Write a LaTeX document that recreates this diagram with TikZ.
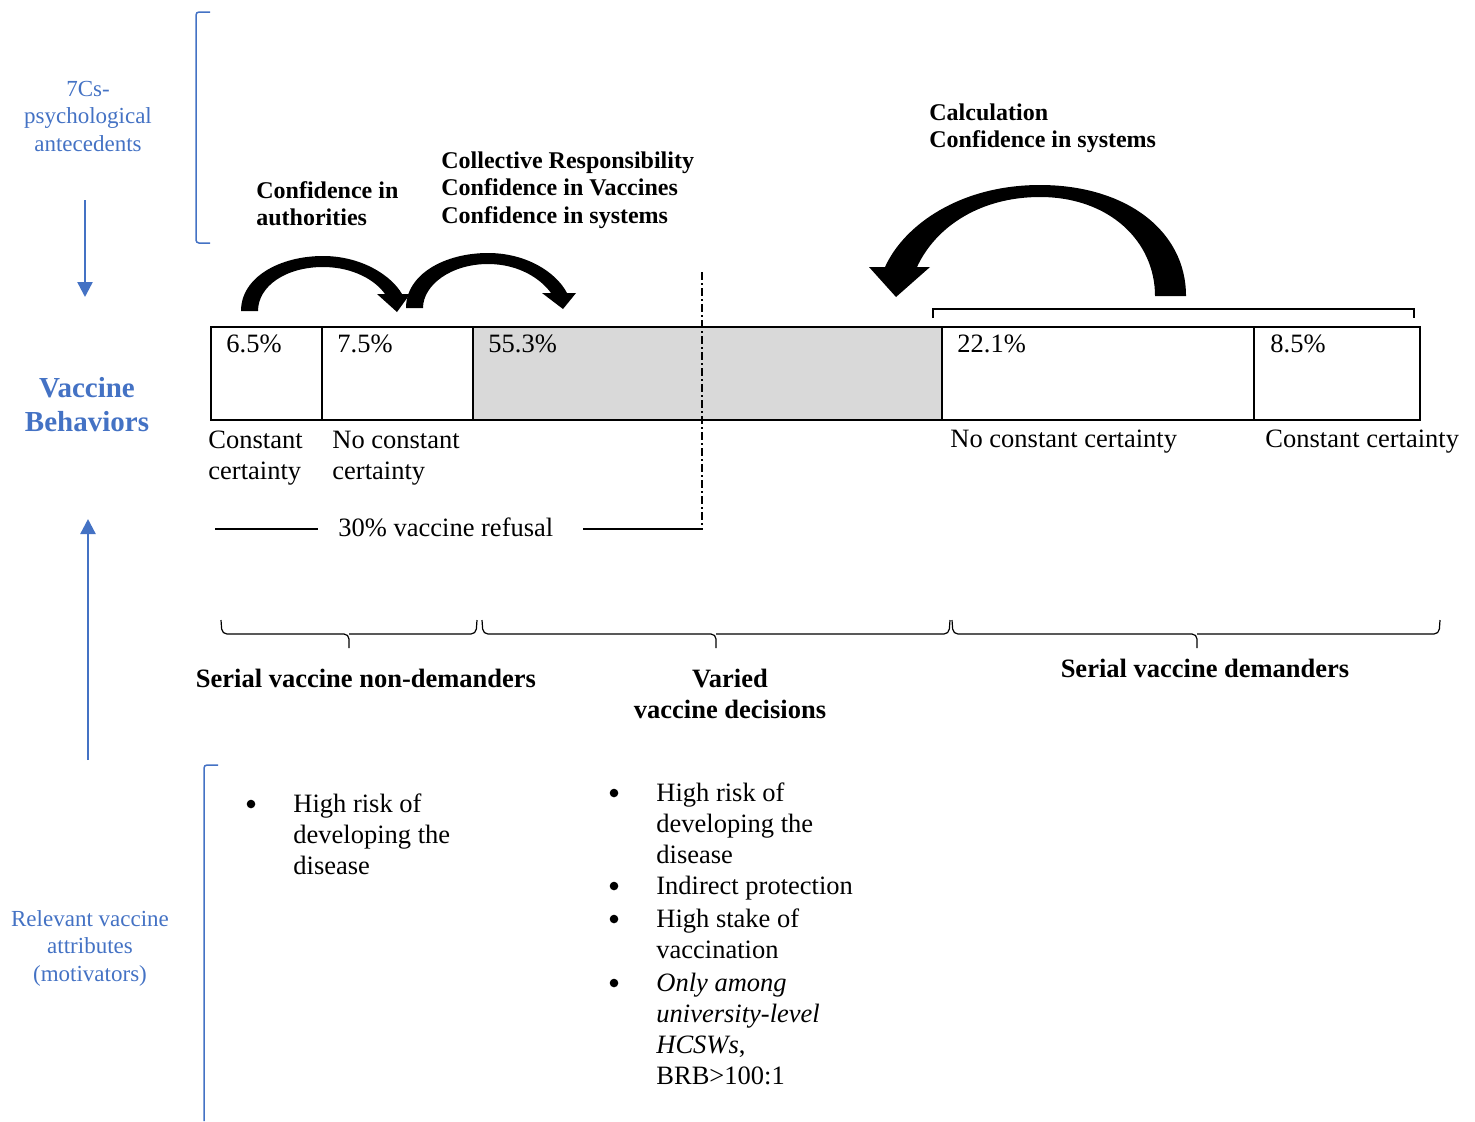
\documentclass[tikz,border=0pt]{standalone}
\usepackage{fontspec}
\setmainfont{Liberation Serif}
\usetikzlibrary{arrows.meta,fit}
\definecolor{wblue}{HTML}{4472C4}
\definecolor{cellgray}{HTML}{D9D9D9}
\tikzset{
  body/.style={font=\fontsize{13.25}{15.5}\selectfont, inner sep=0pt, align=left},
  grp/.style={font=\fontsize{13.25}{15.5}\selectfont\bfseries, inner sep=0pt, align=center},
  head/.style={font=\fontsize{12}{13.75}\selectfont\bfseries, inner sep=0pt, align=left},
  bluetxt/.style={text=wblue, font=\fontsize{11.5}{13.75}\selectfont, inner sep=0pt, align=center},
  bluebold/.style={text=wblue, font=\fontsize{14.5}{17}\selectfont\bfseries, inner sep=0pt, align=center},
  cell/.style={draw, line width=1pt, inner sep=0pt},
  brk/.style={draw=wblue, line width=0.75pt, rounded corners=1.5pt},
  barrow/.style={draw=wblue, line width=1.2pt, -{Triangle[width=7.5pt,length=7.5pt]}},
  curly/.style={line width=0.6pt, rounded corners=2.5pt},
  thinline/.style={line width=0.6pt},
  bigarrow/.style={fill=black},
  dot/.style={circle, fill=black, inner sep=0pt, minimum size=4.3pt},
}
\begin{document}
\begin{tikzpicture}[x=0.5pt,y=-0.5pt]
\useasboundingbox (0,0) rectangle (1475,1121);

% ---- left side blue labels and brackets (base = last line)
\node[bluetxt, anchor=base] (ante) at (88,151) {7Cs-\\psychological\\antecedents};
\node[bluebold, anchor=base] (behav) at (87,431) {Vaccine\\Behaviors};
\node[bluetxt, anchor=base] (attr) at (90,981) {Relevant vaccine\\attributes\\(motivators)};
\coordinate (a1s) at (85,200);
\coordinate (a1e) at (85,297);
\draw[barrow] (a1s) -- (a1e);
\coordinate (a2s) at (88,760);
\coordinate (a2e) at (88,519);
\draw[barrow] (a2s) -- (a2e);
\draw[brk] (210,12) -- (196,12) -- (196,243) -- (210,243);
\draw[brk] (218,765) -- (204,765) -- (204,1121);

% ---- header labels
\node[head, anchor=base west] (h1) at (256,225.5) {Confidence in\\authorities};
\node[head, anchor=base west] (h2) at (441,223) {Collective Responsibility\\Confidence in Vaccines\\Confidence in systems};
\node[head, anchor=base west] (h3) at (929,147.5) {Calculation\\Confidence in systems};

% ---- curved block arrows
\fill[bigarrow] (241,311) .. controls (241,277) and (280,256) .. (323,256)
  .. controls (361,256) and (391,275) .. (402,294) -- (410,294) -- (397,312) -- (377,294) -- (385,294)
  .. controls (376,281) and (354,267) .. (323,267)
  .. controls (286,267) and (258,286) .. (258,311) -- cycle;
\fill[bigarrow] (406,308) .. controls (406,274) and (445,253) .. (488,253)
  .. controls (526,253) and (556,272) .. (567,293) -- (576,293) -- (563,309) -- (542,293) -- (551,293)
  .. controls (541,279) and (519,264) .. (488,264)
  .. controls (451,264) and (423,285) .. (423,308) -- cycle;
\fill[bigarrow] (1186,296) .. controls (1186,230) and (1125,185) .. (1040,185)
  .. controls (960,185) and (904,225) .. (885,267) -- (869,267) -- (896,297) -- (930,267) -- (917,267)
  .. controls (936,226) and (981,197) .. (1040,197)
  .. controls (1109,197) and (1155,241) .. (1155,296) -- cycle;

% ---- bracket over right cells
\draw[thinline] (933,318) -- (933,309) -- (1414,309) -- (1414,318);

% ---- cells
\node[cell, fit={(211,327) (322,420)}] (b1) {};
\node[cell, fit={(322,327) (473,420)}] (b2) {};
\node[cell, fill=cellgray, fit={(473,327) (942,420)}] (b3) {};
\node[cell, fit={(942,327) (1254,420)}] (b4) {};
\node[cell, fit={(1254,327) (1420,420)}] (b5) {};
\node[body, anchor=base west] (p1) at (226,352) {6.5\%};
\node[body, anchor=base west] (p2) at (337,352) {7.5\%};
\node[body, anchor=base west] (p3) at (488,352) {55.3\%};
\node[body, anchor=base west] (p4) at (957,352) {22.1\%};
\node[body, anchor=base west] (p5) at (1270,352) {8.5\%};

% ---- labels below cells
\node[body, anchor=base west] (l1) at (208,479) {Constant\\certainty};
\node[body, anchor=base west] (l2) at (332,479) {No constant\\certainty};
\node[body, anchor=base west] (l3) at (950,447) {No constant certainty};
\node[body, anchor=base west] (l4) at (1265,447) {Constant certainty};

% ---- dash-dot divider and refusal
\coordinate (dd1) at (702,272);
\coordinate (dd2) at (702,530);
\draw[thinline, dash pattern=on 4pt off 1.5pt on 1pt off 1.5pt] (dd1) -- (dd2);
\node[body, anchor=base west] (ref) at (338,536) {30\% vaccine refusal};
\coordinate (r1) at (215,529);
\coordinate (r2) at (318,529);
\coordinate (r3) at (583,529);
\coordinate (r4) at (702,529);
\draw[thinline] (r1) -- (r2);
\draw[thinline] (r3) -- (r4);

% ---- braces
\draw[curly] (221,620) -- (222,634) -- (349,634) -- (349,648);
\draw[curly] (477,620) -- (476,634) -- (349,634);
\draw[curly] (482,620) -- (483,634) -- (716,634) -- (716,648);
\draw[curly] (950,620) -- (949,634) -- (716,634);
\draw[curly] (952,620) -- (953,634) -- (1197,634) -- (1197,648);
\draw[curly] (1440,620) -- (1439,634) -- (1197,634);
\node[grp, anchor=base] (g1) at (366,687) {Serial vaccine non-demanders};
\node[grp, anchor=base] (g2) at (730,718) {Varied\\vaccine decisions};
\node[grp, anchor=base] (g3) at (1205,677) {Serial vaccine demanders};

% ---- bullet lists
\node[dot] (d1) at (251,804) {};
\node[body, anchor=base west] (t1) at (293,874) {High risk of\\developing the\\disease};
\node[dot] (d2) at (614,793) {};
\node[body, anchor=base west] (t2) at (656,863) {High risk of\\developing the\\disease};
\node[dot] (d3) at (614,886) {};
\node[body, anchor=base west] (t3) at (656,894) {Indirect protection};
\node[dot] (d4) at (614,919) {};
\node[body, anchor=base west] (t4) at (656,958) {High stake of\\vaccination};
\node[dot] (d5) at (614,983) {};
\node[body, anchor=base west] (t5) at (656,1084) {\textit{Only among}\\\textit{university-level}\\\textit{HCSWs},\\BRB>100:1};
\end{tikzpicture}
\end{document}
